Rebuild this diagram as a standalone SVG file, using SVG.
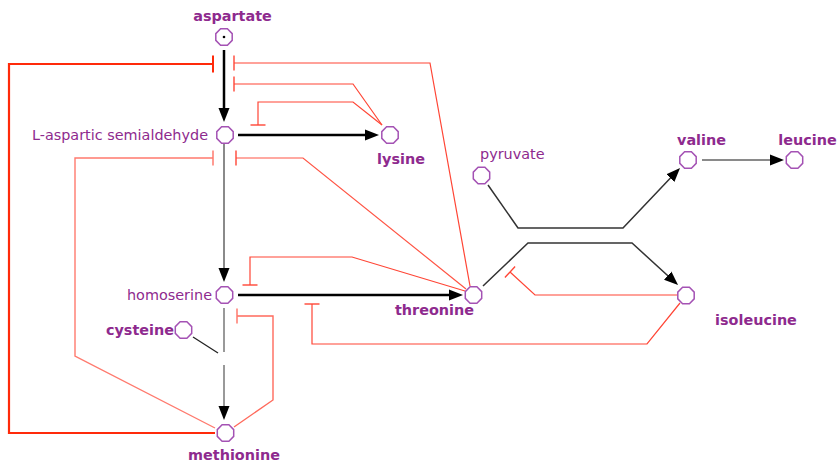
<svg xmlns="http://www.w3.org/2000/svg" width="840" height="463" viewBox="0 0 840 463">
<style>
.lbl{font-family:"DejaVu Sans",Verdana,sans-serif;font-size:14.4px;fill:#8e2a8e}
.b{font-weight:bold}
.oct{fill:#fff;stroke:#a452b4;stroke-width:1.5}
.act{fill:none;stroke:#000;stroke-width:2.5}
.gray{fill:none;stroke:#8a8a8a;stroke-width:2}
.thin{fill:none;stroke:#333;stroke-width:1.5}
.inh-thick{fill:none;stroke:#ff2a0a;stroke-width:2.2}
.inh{fill:none;stroke:#ff4535;stroke-width:1.2}
.inh-light{fill:none;stroke:#ff7a6e;stroke-width:1.4}
</style>
<defs>
<path id="oct" d="M-3.4,-8.2 L3.4,-8.2 L8.2,-3.4 L8.2,3.4 L3.4,8.2 L-3.4,8.2 L-8.2,3.4 L-8.2,-3.4 Z"/>
<marker id="arr" markerUnits="userSpaceOnUse" markerWidth="15" markerHeight="12" refX="8" refY="6" orient="auto">
<path d="M0,0.5 L14,6 L0,11.5 Z" fill="#000"/>
</marker>
<marker id="tb-thick" markerUnits="userSpaceOnUse" markerWidth="4" markerHeight="20" refX="2" refY="10" orient="auto">
<path d="M2,1.5 L2,18.5" stroke="#ff2a0a" stroke-width="2"/>
</marker>
<marker id="tb" markerUnits="userSpaceOnUse" markerWidth="4" markerHeight="20" refX="2" refY="10" orient="auto">
<path d="M2,2.5 L2,17.5" stroke="#ff4535" stroke-width="1.4"/>
</marker>
<marker id="tb-light" markerUnits="userSpaceOnUse" markerWidth="4" markerHeight="20" refX="2" refY="10" orient="auto">
<path d="M2,2.5 L2,17.5" stroke="#ff7a6e" stroke-width="1.5"/>
</marker>
</defs>

<g id="connectors">
<!-- activations / reactions -->
<path class="act" d="M224,50 L224,116" marker-end="url(#arr)"/>
<path class="act" d="M238,135 L373,135" marker-end="url(#arr)"/>
<path class="gray" d="M224,144 L224,276" marker-end="url(#arr)"/>
<path class="act" d="M238,295 L457,295" marker-end="url(#arr)"/>
<path class="gray" style="stroke:#777;stroke-width:1.5" d="M224,308 L224,352"/>
<path class="gray" style="stroke:#777;stroke-width:1.5" d="M224,365 L224,414" marker-end="url(#arr)"/>
<path class="thin" style="stroke:#222;stroke-width:1.3" d="M193,337 L218,353"/>
<path class="thin" d="M488,185 L518,228 L623,228 L675.9,172.3" marker-end="url(#arr)"/>
<path class="thin" d="M483,286 L528,243 L632,243 L673.6,281" marker-end="url(#arr)"/>
<path class="gray" d="M702,160 L778,160" marker-end="url(#arr)"/>
<!-- inhibitions -->
<path class="inh-thick" d="M215,433 L9,433 L9,64 L213,64" marker-end="url(#tb-thick)"/>
<path class="inh" d="M470,286 L430,63 L234,63" marker-end="url(#tb)"/>
<path class="inh" d="M382,125 L353,84 L234,84" marker-end="url(#tb)"/>
<path class="inh" d="M382,125 L353,102 L258,102 L258,125" marker-end="url(#tb)"/>
<path class="inh-light" d="M215,428 L75,356 L75,158 L213,158" marker-end="url(#tb-light)"/>
<path class="inh" style="stroke:#ff5545" d="M466,289 L303,158 L236,158" marker-end="url(#tb)"/>
<path class="inh" d="M465,291 L352,257 L250,257 L250,285" marker-end="url(#tb)"/>
<path class="inh-light" style="stroke:#ff6a5c" d="M234,427 L273,400 L273,316 L237,316" marker-end="url(#tb-light)"/>
<path class="inh" d="M677,295 L535,295 L510,272" marker-end="url(#tb)"/>
<path class="inh" d="M680,303 L647,344 L312,344 L312,304" marker-end="url(#tb)"/>
</g>

<g id="aspartate">
<use href="#oct" class="oct" x="224" y="37"/>
<circle cx="224" cy="37" r="1.3" fill="#000"/>
<text class="lbl b" x="232.5" y="21" text-anchor="middle">aspartate</text>
</g>
<g id="l-aspartic-semialdehyde">
<use href="#oct" class="oct" x="225" y="135"/>
<text class="lbl" x="208" y="140" text-anchor="end">L-aspartic semialdehyde</text>
</g>
<g id="lysine">
<use href="#oct" class="oct" x="390" y="135"/>
<text class="lbl b" x="401" y="164" text-anchor="middle">lysine</text>
</g>
<g id="homoserine">
<use href="#oct" class="oct" x="224.5" y="295"/>
<text class="lbl" x="212" y="300" text-anchor="end">homoserine</text>
</g>
<g id="cysteine">
<use href="#oct" class="oct" x="183.5" y="330"/>
<text class="lbl b" x="174" y="335" text-anchor="end">cysteine</text>
</g>
<g id="methionine">
<use href="#oct" class="oct" x="225.5" y="433"/>
<text class="lbl b" x="234" y="460" text-anchor="middle">methionine</text>
</g>
<g id="threonine">
<use href="#oct" class="oct" x="473.5" y="295"/>
<text class="lbl b" x="434.5" y="315" text-anchor="middle">threonine</text>
</g>
<g id="pyruvate">
<use href="#oct" class="oct" x="481.5" y="175.5"/>
<text class="lbl" x="480" y="159">pyruvate</text>
</g>
<g id="valine">
<use href="#oct" class="oct" x="688" y="160"/>
<text class="lbl b" x="701.5" y="145" text-anchor="middle">valine</text>
</g>
<g id="leucine">
<use href="#oct" class="oct" x="794.5" y="160"/>
<text class="lbl b" x="807.5" y="145" text-anchor="middle">leucine</text>
</g>
<g id="isoleucine">
<use href="#oct" class="oct" x="686" y="295.5"/>
<text class="lbl b" x="756" y="325" text-anchor="middle">isoleucine</text>
</g>
</svg>
